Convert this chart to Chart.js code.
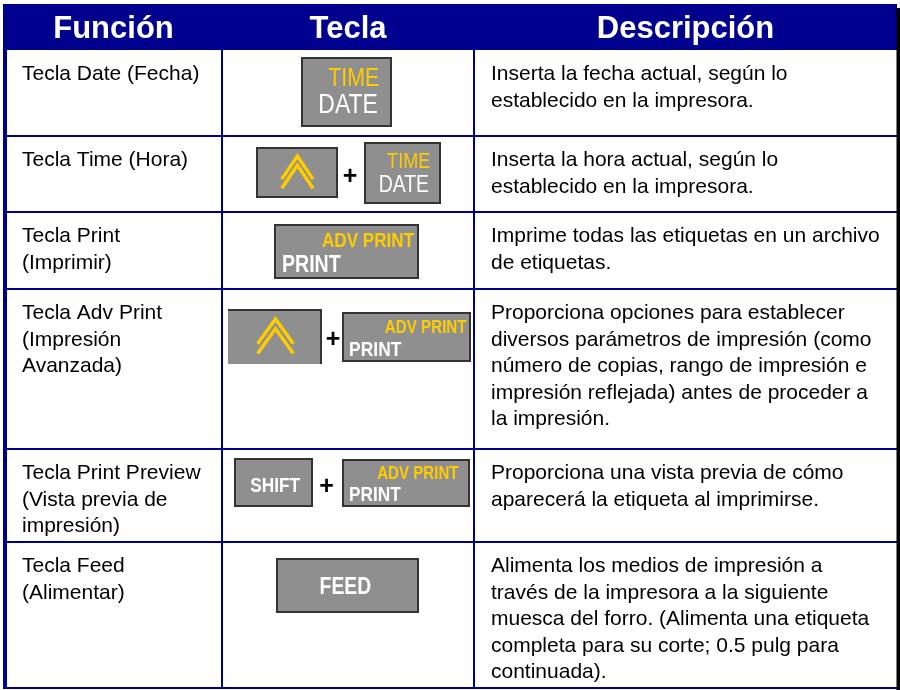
<!DOCTYPE html>
<html>
<head>
<meta charset="utf-8">
<script src="https://cdn.jsdelivr.net/npm/chart.js@4.4.0/dist/chart.umd.min.js"></script>
<style>
  html, body { margin: 0; padding: 0; background: #ffffff; }
  #wrap { width: 900px; height: 690px; }
</style>
</head>
<body>
<div id="wrap"><canvas id="c" width="900" height="690"></canvas></div>
<script>
// ---------------- DATA ----------------
const columnHeaders = ['Función', 'Tecla', 'Descripción'];

const functionLabels = [
  ['Tecla Date (Fecha)'],
  ['Tecla Time (Hora)'],
  ['Tecla Print', '(Imprimir)'],
  ['Tecla Adv Print', '(Impresión', 'Avanzada)'],
  ['Tecla Print Preview', '(Vista previa de', 'impresión)'],
  ['Tecla Feed', '(Alimentar)']
];

const keyCombos = [
  ['timeDate'],
  ['shiftArrow', 'timeDate'],
  ['advPrint'],
  ['shiftArrow', 'advPrint'],
  ['shiftText', 'advPrint'],
  ['feed']
];

const keyLegendsTop = { timeDate: 'TIME', advPrint: 'ADV PRINT', shiftText: '', feed: '', shiftArrow: '' };
const keyLegendsMain = { timeDate: 'DATE', advPrint: 'PRINT', shiftText: 'SHIFT', feed: 'FEED', shiftArrow: '' };
const comboJoiner = '+';

const descriptions = [
  ['Inserta la fecha actual, según lo', 'establecido en la impresora.'],
  ['Inserta la hora actual, según lo', 'establecido en la impresora.'],
  ['Imprime todas las etiquetas en un archivo', 'de etiquetas.'],
  ['Proporciona opciones para establecer', 'diversos parámetros de impresión (como',
   'número de copias, rango de impresión e', 'impresión reflejada) antes de proceder a', 'la impresión.'],
  ['Proporciona una vista previa de cómo', 'aparecerá la etiqueta al imprimirse.'],
  ['Alimenta los medios de impresión a', 'través de la impresora a la siguiente',
   'muesca del forro. (Alimenta una etiqueta', 'completa para su corte; 0.5 pulg para', 'continuada).']
];

// ---------------- LAYOUT (positions / sizes, in scale units) ----------------
const layout = {
  colEdges: [5, 222, 474, 897],
  rowEdges: [4, 50, 136, 212, 289, 449, 542, 688],
  padX: 17,
  firstBaseline: 30,
  lineHeight: 26.5,
  headerBaseline: 38,
  keyBoxes: [
    [[301, 57, 392, 127]],
    [[256, 147, 338, 198], [364, 142, 441, 204]],
    [[274, 224, 419, 279]],
    [[228, 309, 322, 364, 'open'], [342, 312, 471, 362]],
    [[234, 458, 313, 507], [342, 459, 470, 507, 'inset']],
    [[276, 558, 419, 613]]
  ],
  plusCenters: [null, [350, 177], null, [333, 340], [326.5, 487], null]
};

const style = {
  navy: '#00008f',
  keyFill: '#8f8f8f',
  keyBorder: '#333333',
  yellow: '#ffcc00',
  text: '#000000',
  bodyFont: '21px "Liberation Sans", Arial, sans-serif',
  headFont: 'bold 31px "Liberation Sans", Arial, sans-serif'
};

// ---------------- DRAWING ----------------
function fitText(ctx, text, bold, cap, anchorX, baseline, width, align, color) {
  const size = cap / 0.716;
  ctx.font = (bold ? 'bold ' : '') + size.toFixed(1) + 'px "Liberation Sans", Arial, sans-serif';
  const w = ctx.measureText(text).width;
  const s = width / w;
  ctx.save();
  ctx.translate(anchorX, baseline);
  ctx.scale(s, 1);
  ctx.textAlign = align;
  ctx.textBaseline = 'alphabetic';
  ctx.fillStyle = color;
  ctx.fillText(text, 0, 0);
  ctx.restore();
}

function drawKey(ctx, type, x0, y0, x1, y1, flag) {
  const w = x1 - x0, h = y1 - y0;
  ctx.fillStyle = style.keyFill;
  ctx.fillRect(x0, y0, w, h);
  ctx.strokeStyle = style.keyBorder;
  ctx.lineWidth = 2;
  if (flag === 'open') {
    ctx.beginPath();
    ctx.moveTo(x0, y0 + 1); ctx.lineTo(x1 - 1, y0 + 1); ctx.lineTo(x1 - 1, y1);
    ctx.stroke();
  } else {
    ctx.strokeRect(x0 + 1, y0 + 1, w - 2, h - 2);
  }
  const top = keyLegendsTop[type], main = keyLegendsMain[type];
  if (type === 'timeDate') {
    fitText(ctx, top, false, 0.26 * h, x1 - 0.14 * w, y0 + 0.42 * h, 0.56 * w, 'right', style.yellow);
    fitText(ctx, main, false, 0.275 * h, x1 - 0.155 * w, y0 + 0.8 * h, 0.655 * w, 'right', '#ffffff');
  } else if (type === 'advPrint') {
    const inset = flag === 'inset' ? 0.09 : 0.034;
    fitText(ctx, top, true, 0.27 * h, x1 - inset * w, y0 + 0.42 * h, 0.635 * w, 'right', style.yellow);
    fitText(ctx, main, true, 0.3 * h, x0 + 0.055 * w, y0 + 0.87 * h, 0.405 * w, 'left', '#ffffff');
  } else if (type === 'shiftText') {
    fitText(ctx, main, true, 0.3 * h, x0 + 0.52 * w, y0 + 0.70 * h, 0.63 * w, 'center', '#ffffff');
  } else if (type === 'feed') {
    fitText(ctx, main, true, 0.31 * h, x0 + 0.485 * w, y0 + 0.655 * h, 0.36 * w, 'center', '#ffffff');
  } else if (type === 'shiftArrow') {
    const cx = x0 + 0.505 * w;
    const hw = 0.19 * w, ch = 0.45 * h, off = 0.18 * h;
    const apex = y0 + 0.18 * h;
    ctx.strokeStyle = style.yellow;
    ctx.lineWidth = 3.5;
    ctx.lineCap = 'butt';
    ctx.lineJoin = 'miter';
    for (let k = 0; k < 2; k++) {
      const a = apex + k * off;
      ctx.beginPath();
      ctx.moveTo(cx - hw, a + ch);
      ctx.lineTo(cx, a);
      ctx.lineTo(cx + hw, a + ch);
      ctx.stroke();
    }
  }
}

const tablePlugin = {
  id: 'keyTable',
  afterDraw(chart) {
    const ctx = chart.ctx;
    const xs = chart.scales.x, ys = chart.scales.y;
    const X = v => xs.getPixelForValue(v);
    const Y = v => ys.getPixelForValue(v);
    const ce = layout.colEdges, re = layout.rowEdges;
    ctx.save();

    // background
    ctx.fillStyle = '#ffffff';
    ctx.fillRect(0, 0, chart.width, chart.height);

    // header band
    ctx.fillStyle = style.navy;
    ctx.fillRect(X(3), Y(re[0]), X(ce[3]) - X(3), Y(re[1]) - Y(re[0]));
    ctx.font = style.headFont;
    ctx.fillStyle = '#ffffff';
    ctx.textAlign = 'center';
    ctx.textBaseline = 'alphabetic';
    columnHeaders.forEach((h, i) => {
      ctx.fillText(h, (X(ce[i]) + X(ce[i + 1])) / 2, Y(layout.headerBaseline));
    });

    // body text
    ctx.font = style.bodyFont;
    ctx.fillStyle = style.text;
    ctx.textAlign = 'left';
    functionLabels.forEach((lines, r) => {
      const top = re[r + 1];
      lines.forEach((ln, i) => ctx.fillText(ln, X(ce[0] + layout.padX), Y(top + layout.firstBaseline + i * layout.lineHeight)));
    });
    descriptions.forEach((lines, r) => {
      const top = re[r + 1];
      lines.forEach((ln, i) => ctx.fillText(ln, X(ce[2] + layout.padX), Y(top + layout.firstBaseline + i * layout.lineHeight)));
    });

    // keys
    keyCombos.forEach((combo, r) => {
      combo.forEach((type, k) => {
        const b = layout.keyBoxes[r][k];
        drawKey(ctx, type, X(b[0]), Y(b[1]), X(b[2]), Y(b[3]), b[4]);
      });
      const p = layout.plusCenters[r];
      if (p) {
        ctx.font = 'bold 25px "Liberation Sans", Arial, sans-serif';
        ctx.fillStyle = '#000000';
        ctx.textAlign = 'center';
        ctx.textBaseline = 'middle';
        ctx.fillText(comboJoiner, X(p[0]), Y(p[1]));
        ctx.textBaseline = 'alphabetic';
      }
    });

    // grid lines
    ctx.fillStyle = style.navy;
    for (let i = 2; i < re.length; i++) {
      ctx.fillRect(X(3), Y(re[i]) - 1, X(ce[3]) - X(3), 2);
    }
    ctx.fillRect(X(ce[1]) - 1, Y(re[1]), 2, Y(re[re.length - 1]) - Y(re[1]));
    ctx.fillRect(X(ce[2]) - 1, Y(re[1]), 2, Y(re[re.length - 1]) - Y(re[1]));
    // left border
    ctx.fillRect(X(3), Y(re[0]), 4, Y(re[re.length - 1]) - Y(re[0]) + 1);
    // right shadow border
    ctx.fillStyle = '#000000';
    ctx.fillRect(X(ce[3]) - 0.5, Y(8), 3.5, Y(690) - Y(8));
    ctx.restore();
  }
};

new Chart(document.getElementById('c'), {
  type: 'scatter',
  data: { datasets: [{ data: [], showLine: false }] },
  options: {
    responsive: false,
    animation: false,
    events: [],
    layout: { padding: 0 },
    plugins: { legend: { display: false }, tooltip: { enabled: false } },
    scales: {
      x: { type: 'linear', min: 0, max: 900, display: false },
      y: { type: 'linear', min: 0, max: 690, reverse: true, display: false }
    }
  },
  plugins: [tablePlugin]
});
</script>
</body>
</html>
